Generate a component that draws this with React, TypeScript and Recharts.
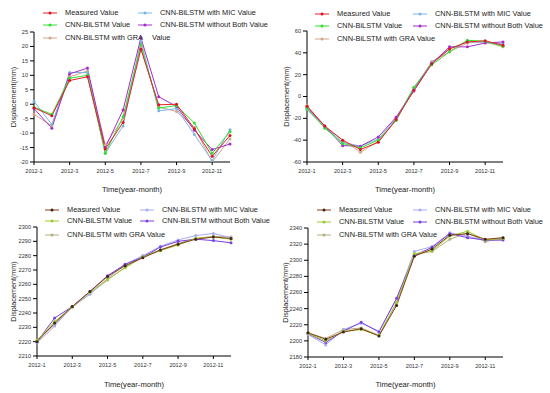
import { Legend, Line, LineChart, XAxis, YAxis } from "recharts";

const months = [
  "2012-1", "2012-2", "2012-3", "2012-4", "2012-5", "2012-6",
  "2012-7", "2012-8", "2012-9", "2012-10", "2012-11", "2012-12",
];

// top-left panel
const measuredA = [-1.2, -4, 8.2, 9.5, -15.5, -6.3, 19, -0.2, 0, -8.5, -18, -10.8];
const cnnA = [-1, -3.5, 9, 10, -17, -4.3, 20.5, -1.3, -0.5, -6.5, -17, -9.5];
const graA = [-3.5, -7.5, 9.5, 11.5, -14, -5, 20, -1, -2.5, -8, -20, -12];
const micA = [1, -7, 11, 11, -17, -7.5, 22, -2.3, -1.5, -10.5, -19.5, -8.8];
const bothA = [-1.5, -8.3, 10.5, 12.5, -15, -2, 23, 2.6, -0.8, -9, -15.7, -13.8];

// top-right panel
const measuredB = [-9, -27, -40, -48.5, -42, -21, 6, 30, 43.5, 50, 51, 47];
const cnnB = [-11, -29, -43, -47, -40, -22, 8.5, 29, 41, 51.5, 50.5, 46];
const graB = [-8, -28, -40, -51, -41, -22, 7, 32, 41, 49, 50, 45.5];
const micB = [-12, -28, -42, -45.5, -39, -20, 8, 31, 44, 50, 50, 48];
const bothB = [-10, -27, -45, -45.5, -37, -19, 5, 30, 45.5, 45.5, 49, 50];

// bottom-left panel
const measuredC = [2220, 2233, 2244.5, 2255, 2265.5, 2273, 2278.5, 2284, 2288, 2291.5, 2293, 2292];
const cnnC = [2221, 2234, 2244.5, 2254.5, 2263.5, 2271.5, 2279, 2283.5, 2287.5, 2292, 2293, 2291.5];
const graC = [2221, 2232, 2244, 2253.5, 2263, 2272, 2280, 2284, 2288.5, 2292, 2293.5, 2293];
const micC = [2219, 2231, 2244.5, 2253, 2264, 2274, 2280, 2286.5, 2291, 2294, 2295.5, 2292.5];
const bothC = [2220, 2236.5, 2244.5, 2255, 2266, 2274, 2279, 2286, 2290, 2291.5, 2290.5, 2289];

// bottom-right panel
const measuredD = [2210, 2202, 2211, 2215, 2206, 2244, 2305, 2314, 2331, 2333, 2326, 2328];
const cnnD = [2209, 2200, 2212, 2214, 2207, 2248, 2308, 2312, 2330, 2336, 2325, 2327];
const graD = [2210, 2203, 2214, 2216, 2207, 2247, 2307, 2311, 2326, 2334, 2323, 2328];
const micD = [2208, 2195, 2214, 2222, 2212, 2252, 2311, 2317, 2334, 2330, 2324, 2326];
const bothD = [2209, 2198, 2212, 2223, 2211, 2253, 2306, 2316, 2333, 2328, 2325, 2325];

const ticksA = [-20, -15, -10, -5, 0, 5, 10, 15, 20, 25];
const ticksB = [-60, -40, -20, 0, 20, 40, 60];
const ticksC = [2210, 2220, 2230, 2240, 2250, 2260, 2270, 2280, 2290, 2300];
const ticksD = [2180, 2200, 2220, 2240, 2260, 2280, 2300, 2320, 2340];

const FONT = "'Liberation Sans', Arial, sans-serif";

type Colors = { measured: string; measuredDot: string; cnn: string; gra: string; mic: string; both: string };

const topColors: Colors = {
  measured: "#e8202a",
  measuredDot: "#e0101c",
  cnn: "#30e030",
  gra: "#d4a48c",
  mic: "#7ab6e2",
  both: "#a82ccc",
};

const bottomColors: Colors = {
  measured: "#8c3c1c",
  measuredDot: "#3c2810",
  cnn: "#9ccc2c",
  gra: "#b4ae80",
  mic: "#aaaaf2",
  both: "#7a40e0",
};

function Icon({ color, dot }: { color: string; dot: string }) {
  return (
    <svg width={14} height={6} style={{ position: "absolute", left: 0, top: 0 }}>
      <line x1={0} y1={3} x2={14} y2={3} stroke={color} strokeWidth={1} />
      <circle cx={7} cy={3} r={1.5} fill={dot} />
    </svg>
  );
}

function LegendBox({ colors, col1, col2, rows, splitGra }: {
  colors: Colors; col1: number; col2: number; rows: number[]; splitGra?: boolean;
}) {
  const item = (x: number, y: number, color: string, dot: string, text: string) => (
    <div key={text} style={{ position: "absolute", left: x, top: y - 3, height: 6 }}>
      <Icon color={color} dot={dot} />
      <span style={{ position: "absolute", left: 22, top: -2, whiteSpace: "nowrap", lineHeight: "9px" }}>{text}</span>
    </div>
  );
  return (
    <div style={{ position: "relative", width: 275, height: 50, fontFamily: FONT, fontSize: 7.4, color: "#222" }}>
      {item(col1, rows[0], colors.measured, colors.measuredDot, "Measured Value")}
      {item(col1, rows[1], colors.cnn, colors.cnn, "CNN-BiLSTM Value")}
      {item(col1, rows[2], colors.gra, colors.gra, splitGra ? "CNN-BiLSTM with GRA" : "CNN-BiLSTM with GRA Value")}
      {splitGra ? (
        <span style={{ position: "absolute", left: col1 + 109, top: rows[2] - 5, lineHeight: "9px" }}>Value</span>
      ) : null}
      {item(col2, rows[0], colors.mic, colors.mic, "CNN-BiLSTM with MIC Value")}
      {item(col2, rows[1], colors.both, colors.both, "CNN-BiLSTM without Both Value")}
    </div>
  );
}

type PanelProps = {
  left: number; top: number;
  measured: number[]; cnn: number[]; gra: number[]; mic: number[]; both: number[];
  domain: [number, number]; ticks: number[]; colors: Colors;
  yWidth: number; mTop: number; mRight: number; xHeight: number; yLabelX: number;
  col1: number; col2: number; rows: number[]; splitGra?: boolean;
};

function Panel(p: PanelProps) {
  const data = months.map((m, i) => ({
    month: m,
    measured: p.measured[i],
    cnn: p.cnn[i],
    gra: p.gra[i],
    mic: p.mic[i],
    both: p.both[i],
  }));
  const tickStyle = { fontSize: 5.6, fill: "#333", fontFamily: FONT };
  const series: [keyof Colors, string][] = [
    ["gra", p.colors.gra],
    ["mic", p.colors.mic],
    ["both", p.colors.both],
    ["cnn", p.colors.cnn],
    ["measured", p.colors.measured],
  ];
  return (
    <div style={{ position: "absolute", left: p.left, top: p.top }}>
      <LineChart width={275} height={196} data={data}
        margin={{ top: p.mTop, right: p.mRight, bottom: 0, left: 0 }}>
        <XAxis dataKey="month" interval={1} height={p.xHeight} tick={tickStyle}
          stroke="#000" tickSize={3} tickMargin={4} padding={{ left: 0, right: 0 }}
          label={{ value: "Time(year-month)", position: "insideBottom", offset: 4,
            style: { fontSize: 7.6, fill: "#222", fontFamily: FONT } }} />
        <YAxis domain={p.domain} ticks={p.ticks} width={p.yWidth} tick={tickStyle}
          stroke="#000" tickSize={4} tickMargin={2} interval={0} allowDataOverflow
          label={{ value: "Displacement(mm)", angle: -90, position: "insideLeft", offset: p.yLabelX,
            style: { textAnchor: "middle", fontSize: 7.2, fill: "#222", fontFamily: FONT } }} />
        <Legend layout="vertical" align="center" verticalAlign="middle"
          wrapperStyle={{ top: 0, left: 0, width: 275, height: 50 }}
          content={() => (
            <LegendBox colors={p.colors} col1={p.col1} col2={p.col2} rows={p.rows} splitGra={p.splitGra} />
          )} />
        {series.map(([key, color]) => (
          <Line key={key} type="linear" dataKey={key} stroke={color} strokeWidth={1}
            dot={{ r: 1.5, fill: key === "measured" ? p.colors.measuredDot : color, stroke: "none" }}
            activeDot={false} isAnimationActive={false} />
        ))}
      </LineChart>
    </div>
  );
}

export default function App() {
  return (
    <div style={{ position: "absolute", left: 0, top: 0, width: 550, height: 393, background: "#fff" }}>
      <Panel left={0} top={0} measured={measuredA} cnn={cnnA} gra={graA} mic={micA} both={bothA}
        domain={[-20, 25]} ticks={ticksA} colors={topColors}
        yWidth={34} mTop={32} mRight={45} xHeight={34} yLabelX={13}
        col1={43} col2={138} rows={[13, 25, 38]} splitGra />
      <Panel left={275} top={0} measured={measuredB} cnn={cnnB} gra={graB} mic={micB} both={bothB}
        domain={[-60, 60]} ticks={ticksB} colors={topColors}
        yWidth={32} mTop={31} mRight={47} xHeight={34} yLabelX={11}
        col1={40} col2={138} rows={[14, 26, 39]} />
      <Panel left={0} top={195} measured={measuredC} cnn={cnnC} gra={graC} mic={micC} both={bothC}
        domain={[2210, 2300]} ticks={ticksC} colors={bottomColors}
        yWidth={37} mTop={32} mRight={44} xHeight={35} yLabelX={13}
        col1={45} col2={140} rows={[15, 26, 40]} />
      <Panel left={275} top={195} measured={measuredD} cnn={cnnD} gra={graD} mic={micD} both={bothD}
        domain={[2180, 2340]} ticks={ticksD} colors={bottomColors}
        yWidth={33} mTop={33} mRight={47} xHeight={34} yLabelX={10}
        col1={42} col2={138} rows={[15, 27, 40]} />
    </div>
  );
}
